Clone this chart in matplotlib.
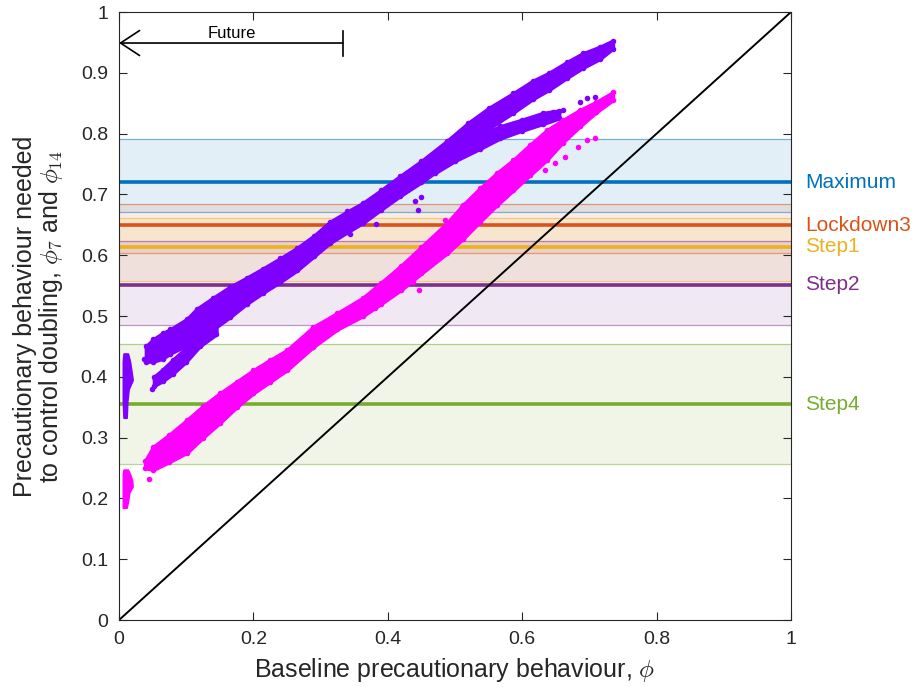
import matplotlib
matplotlib.use("Agg")
import matplotlib.pyplot as plt

plt.rcParams['font.family'] = ['Liberation Sans', 'DejaVu Sans']
plt.rcParams['mathtext.fontset'] = 'cm'

# policy levels: centre line and band (low, high)
LEVEL_NAMES = ["Maximum", "Lockdown3", "Step1", "Step2", "Step4"]
LEVEL_MID = [0.720, 0.649, 0.614, 0.5515, 0.355]
LEVEL_LO = [0.671, 0.604, 0.558, 0.486, 0.256]
LEVEL_HI = [0.791, 0.684, 0.662, 0.624, 0.454]
LEVEL_COLORS = ["#0072BD", "#D95319", "#EDB120", "#7E2F8E", "#77AC30"]

# phi_7 cloud (purple), main strand: x, lower edge, upper edge
P7_X = [0.040, 0.051, 0.065, 0.076, 0.101, 0.116, 0.140, 0.165, 0.190, 0.214,
        0.240, 0.265, 0.290, 0.314, 0.340, 0.363, 0.390, 0.418, 0.450, 0.488,
        0.520, 0.550, 0.586, 0.616, 0.640, 0.667, 0.690, 0.716, 0.735]
P7_LO = [0.425, 0.425, 0.430, 0.438, 0.452, 0.462, 0.478, 0.498, 0.520, 0.538,
         0.556, 0.575, 0.598, 0.620, 0.638, 0.653, 0.675, 0.697, 0.720, 0.750,
         0.782, 0.808, 0.834, 0.857, 0.872, 0.892, 0.908, 0.923, 0.940]
P7_HI = [0.450, 0.462, 0.472, 0.478, 0.495, 0.512, 0.530, 0.548, 0.563, 0.578,
         0.595, 0.612, 0.632, 0.655, 0.672, 0.686, 0.707, 0.730, 0.755, 0.788,
         0.818, 0.842, 0.866, 0.887, 0.900, 0.918, 0.932, 0.943, 0.953]
# lower strand at the start of the purple cloud
P7C_X = [0.052, 0.065, 0.080, 0.100, 0.120, 0.145]
P7C_LO = [0.385, 0.393, 0.405, 0.425, 0.450, 0.470]
P7C_HI = [0.400, 0.412, 0.428, 0.448, 0.470, 0.488]
# second purple strand that splits off near the top
P7B_X = [0.470, 0.500, 0.537, 0.567, 0.600, 0.631, 0.655]
P7B_LO = [0.735, 0.755, 0.775, 0.792, 0.805, 0.816, 0.825]
P7B_HI = [0.760, 0.780, 0.797, 0.812, 0.823, 0.834, 0.838]
P7_OUT_X = [0.037, 0.049, 0.344, 0.382, 0.440, 0.445, 0.450, 0.646,
            0.661, 0.686, 0.696, 0.708, 0.540]
P7_OUT_Y = [0.430, 0.380, 0.635, 0.651, 0.690, 0.674, 0.696, 0.836,
            0.839, 0.852, 0.859, 0.860, 0.822]
# purple points at phi ~ 0
P7S_Y = [0.333, 0.360, 0.380, 0.395, 0.410, 0.425, 0.438]
P7S_XL = [0.007, 0.006, 0.006, 0.006, 0.006, 0.006, 0.007]
P7S_XR = [0.011, 0.012, 0.014, 0.020, 0.018, 0.016, 0.013]

# phi_14 cloud (magenta)
P14_X = [0.039, 0.051, 0.075, 0.101, 0.125, 0.150, 0.175, 0.200, 0.225, 0.250,
         0.289, 0.325, 0.363, 0.390, 0.420, 0.450, 0.488, 0.512, 0.537, 0.562,
         0.587, 0.612, 0.637, 0.660, 0.686, 0.710, 0.735]
P14_LO = [0.250, 0.247, 0.260, 0.275, 0.300, 0.324, 0.350, 0.373, 0.392, 0.411,
          0.449, 0.478, 0.500, 0.520, 0.543, 0.570, 0.603, 0.627, 0.655, 0.682,
          0.707, 0.732, 0.757, 0.785, 0.812, 0.835, 0.855]
P14_HI = [0.262, 0.285, 0.305, 0.329, 0.352, 0.373, 0.392, 0.411, 0.428, 0.444,
          0.482, 0.505, 0.530, 0.555, 0.583, 0.614, 0.653, 0.683, 0.710, 0.735,
          0.757, 0.782, 0.806, 0.822, 0.839, 0.852, 0.868]
P14_OUT_X = [0.381, 0.438, 0.446, 0.485, 0.510, 0.525, 0.634, 0.649, 0.664,
             0.683, 0.696, 0.708, 0.045]
P14_OUT_Y = [0.513, 0.556, 0.543, 0.658, 0.679, 0.694, 0.740, 0.752, 0.762,
             0.778, 0.789, 0.793, 0.232]
P14S_Y = [0.185, 0.195, 0.210, 0.220, 0.230, 0.240, 0.247]
P14S_XL = [0.006, 0.006, 0.006, 0.006, 0.006, 0.006, 0.007]
P14S_XR = [0.011, 0.013, 0.015, 0.020, 0.019, 0.016, 0.013]

PURPLE = "#7F00FF"
MAGENTA = "#FF00FF"
AXIS_COLOR = "#262626"

fig = plt.figure(figsize=(9.17, 6.87), dpi=100)
ax = fig.add_axes([0.1298, 0.0975, 0.7328, 0.885])

# bands and lines
for name, mid, lo, hi, c in zip(LEVEL_NAMES, LEVEL_MID, LEVEL_LO, LEVEL_HI, LEVEL_COLORS):
    ax.axhspan(lo, hi, color=c, alpha=0.11, lw=0, zorder=1)
    ax.axhline(lo, color=c, alpha=0.5, lw=0.9, zorder=2)
    ax.axhline(hi, color=c, alpha=0.5, lw=0.9, zorder=2)
    ax.axhline(mid, color=c, lw=2.6, zorder=3)
    ax.text(1.021, mid, name, color=c, fontsize=15, va='center', ha='left',
            transform=ax.get_yaxis_transform(), clip_on=False)

# diagonal
ax.plot([0, 1], [0, 1], color='black', lw=1.4, zorder=4)


def draw_cloud(xs, lo, hi, color):
    ax.fill_between(xs, lo, hi, color=color, lw=2.5, edgecolor=color,
                    joinstyle='round', zorder=5)
    ax.scatter(xs, lo, s=16, color=color, lw=0, zorder=5)
    ax.scatter(xs, hi, s=16, color=color, lw=0, zorder=5)


draw_cloud(P7_X, P7_LO, P7_HI, PURPLE)
draw_cloud(P7C_X, P7C_LO, P7C_HI, PURPLE)
draw_cloud(P7B_X, P7B_LO, P7B_HI, PURPLE)
ax.scatter(P7_OUT_X, P7_OUT_Y, s=16, color=PURPLE, lw=0, zorder=5)
ax.fill_betweenx(P7S_Y, P7S_XL, P7S_XR, color=PURPLE, lw=1.5, edgecolor=PURPLE, zorder=5)

draw_cloud(P14_X, P14_LO, P14_HI, MAGENTA)
ax.scatter(P14_OUT_X, P14_OUT_Y, s=16, color=MAGENTA, lw=0, zorder=5)
ax.fill_betweenx(P14S_Y, P14S_XL, P14S_XR, color=MAGENTA, lw=1.5, edgecolor=MAGENTA, zorder=5)

# "Future" arrow
ax.annotate('', xy=(0.0, 0.949), xytext=(0.333, 0.949),
            arrowprops=dict(arrowstyle='->,head_length=1.37,head_width=0.9',
                            mutation_scale=10, color='black', lw=1.2,
                            shrinkA=0, shrinkB=0), zorder=6)
ax.plot([0.333, 0.333], [0.928, 0.968], color='black', lw=1.2, zorder=6)
ax.text(0.168, 0.964, 'Future', fontsize=12, ha='center', va='center', color='black')

ax.set_xlim(0, 1)
ax.set_ylim(0, 1)
xt = [0, 0.2, 0.4, 0.6, 0.8, 1]
yt = [0, 0.1, 0.2, 0.3, 0.4, 0.5, 0.6, 0.7, 0.8, 0.9, 1]
ax.set_xticks(xt)
ax.set_xticklabels(['0', '0.2', '0.4', '0.6', '0.8', '1'])
ax.set_yticks(yt)
ax.set_yticklabels(['0', '0.1', '0.2', '0.3', '0.4', '0.5', '0.6', '0.7', '0.8', '0.9', '1'])
ax.tick_params(direction='in', top=True, right=True, length=6, width=0.8,
               labelsize=14, color=AXIS_COLOR, labelcolor=AXIS_COLOR, pad=8)
for sp in ax.spines.values():
    sp.set_color(AXIS_COLOR)
    sp.set_linewidth(0.8)
    sp.set_zorder(7)

ax.set_xlabel(r'Baseline precautionary behaviour, $\phi$', fontsize=18, color=AXIS_COLOR, labelpad=6)
ax.set_ylabel('Precautionary behaviour needed\n'
              r'to control doubling, $\phi_7$ and $\phi_{14}$',
              fontsize=18, color=AXIS_COLOR, labelpad=11, linespacing=1.0)

fig.savefig('out.png', dpi=100)
